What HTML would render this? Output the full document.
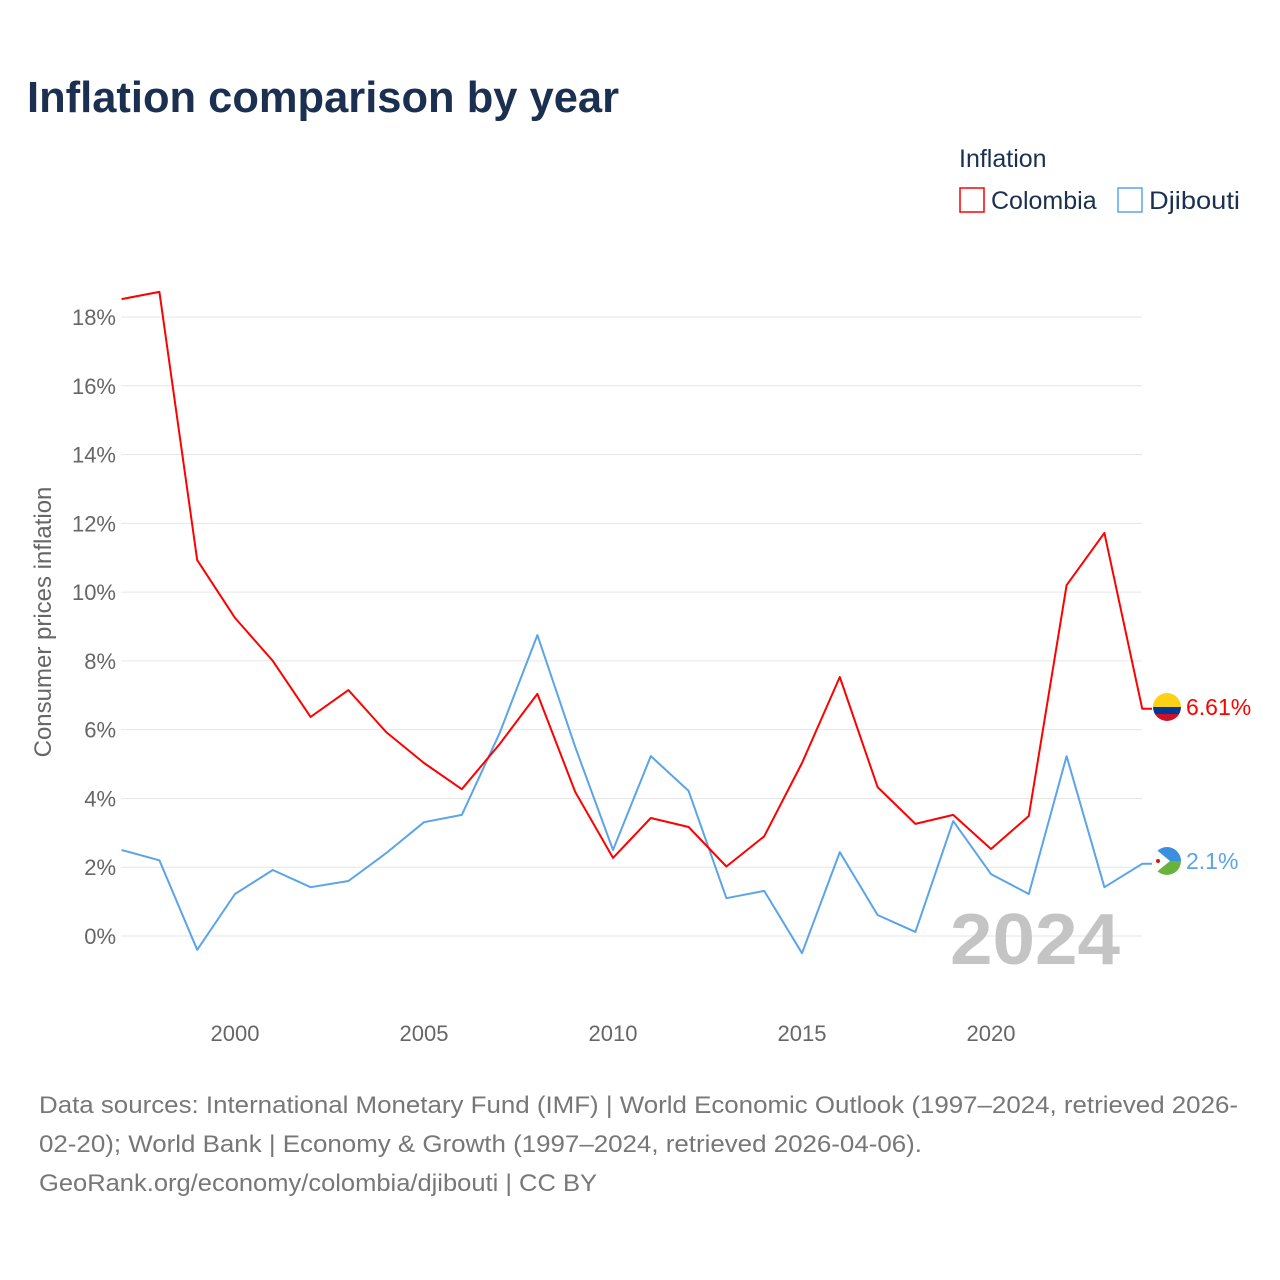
<!DOCTYPE html>
<html><head><meta charset="utf-8">
<style>
body{margin:0;background:#fff;font-family:"Liberation Sans",sans-serif;}
#wrap{position:relative;width:1280px;height:1280px;overflow:hidden;}
</style></head>
<body>
<div id="wrap">
<svg id="chart" width="1280" height="1280">
<text x="27" y="112" font-size="44" font-weight="bold" fill="#1b3050" textLength="592" lengthAdjust="spacingAndGlyphs">Inflation comparison by year</text>
<g>
<text x="959" y="167" font-size="25" fill="#1b3050">Inflation</text>
<g>
<rect x="960" y="188" width="24" height="24" fill="none" stroke="#ff0000" stroke-width="1.5"/>
<text x="991" y="209" font-size="25" fill="#1b3050">Colombia</text></g>
<g>
<rect x="1118" y="188" width="24" height="24" fill="none" stroke="#5ba4ea" stroke-width="1.5"/>
<text x="1149" y="209" font-size="25" fill="#1b3050" textLength="91" lengthAdjust="spacingAndGlyphs">Djibouti</text></g>
</g>
<g id="grid"></g>
<g id="yticks"></g>
<g id="xticks"></g>
<text transform="translate(51,622) rotate(-90)" text-anchor="middle" font-size="24" fill="#666">Consumer prices inflation</text>
<text x="950" y="964" font-size="72" font-weight="bold" fill="#c4c4c4" textLength="170" lengthAdjust="spacingAndGlyphs">2024</text>
<g id="series"></g>
<g>
<clipPath id="c1"><circle cx="1167" cy="707" r="14"/></clipPath>
<g clip-path="url(#c1)"><rect x="1153" y="693" width="28" height="14" fill="#fcd116"/><rect x="1153" y="707" width="28" height="7" fill="#003893"/><rect x="1153" y="714" width="28" height="7" fill="#ce1126"/></g></g>
<g>
<clipPath id="c2"><circle cx="1167" cy="861" r="14"/></clipPath>
<g clip-path="url(#c2)"><rect x="1153" y="847" width="28" height="14" fill="#3b8fe0"/><rect x="1153" y="861" width="28" height="14" fill="#6ab23e"/><polygon points="1153,847 1170,861 1153,875" fill="#fff"/><circle cx="1158" cy="861" r="2" fill="#d7141a"/></g></g>
<text x="1186" y="715" font-size="23" fill="#ff0000">6.61%</text>
<text x="1186" y="869" font-size="23" fill="#5ba4ea">2.1%</text>
<g font-size="24" fill="#777">
<text x="39" y="1113" textLength="1199" lengthAdjust="spacingAndGlyphs">Data sources: International Monetary Fund (IMF) | World Economic Outlook (1997–2024, retrieved 2026-</text>
<text x="39" y="1152" textLength="883" lengthAdjust="spacingAndGlyphs">02-20); World Bank | Economy &amp; Growth (1997–2024, retrieved 2026-04-06).</text>
<text x="39" y="1191" textLength="558" lengthAdjust="spacingAndGlyphs">GeoRank.org/economy/colombia/djibouti | CC BY</text>
</g>
</svg>
</div>
<script>
const years=[1997,1998,1999,2000,2001,2002,2003,2004,2005,2006,2007,2008,2009,2010,2011,2012,2013,2014,2015,2016,2017,2018,2019,2020,2021,2022,2023,2024];
const colombia=[18.52,18.73,10.93,9.25,8.0,6.37,7.15,5.93,5.03,4.27,5.58,7.04,4.19,2.27,3.43,3.17,2.02,2.90,5.03,7.53,4.33,3.26,3.52,2.53,3.49,10.2,11.72,6.61];
const djibouti=[2.5,2.2,-0.4,1.22,1.92,1.42,1.6,2.41,3.31,3.52,5.9,8.75,5.5,2.5,5.23,4.22,1.1,1.31,-0.5,2.44,0.61,0.12,3.34,1.8,1.22,5.23,1.42,2.1];
const yTicks=[0,2,4,6,8,10,12,14,16,18];
const xTicks=[2000,2005,2010,2015,2020];
const NS='http://www.w3.org/2000/svg';
function xs(y){return 121.6+(y-1997)*37.8;}
function ys(v){return 936-v*34.39;}
function mk(t,a){const e=document.createElementNS(NS,t);for(const k in a)e.setAttribute(k,a[k]);return e;}
const grid=document.getElementById('grid'),yt=document.getElementById('yticks'),xt=document.getElementById('xticks'),ser=document.getElementById('series');
yTicks.forEach(v=>{
 const l=mk('line',{x1:121,x2:1142,y1:ys(v),y2:ys(v),stroke:'#e6e6e6','stroke-width':1});
 
 
 grid.appendChild(l);
 const t=mk('text',{x:116,y:ys(v)+8,'text-anchor':'end','font-size':22,fill:'#666'});
 t.textContent=v+'%';
 
 
 yt.appendChild(t);
});
xTicks.forEach(v=>{
 const t=mk('text',{x:xs(v),y:1041,'text-anchor':'middle','font-size':22,fill:'#666'});
 t.textContent=v;
 
 
 xt.appendChild(t);
});
function line(vals,color,name){
 let d=vals.map((v,i)=>(i?'L':'M')+xs(years[i]).toFixed(1)+','+ys(v).toFixed(1)).join(' ');
 d+=' L1152,'+ys(vals[vals.length-1]).toFixed(1);
 const p=mk('path',{d:d,fill:'none',stroke:color,'stroke-width':2,'stroke-linejoin':'round'});
 
 
 ser.appendChild(p);
}
line(djibouti,'#5ba4ea','djibouti-line');
line(colombia,'#ff0000','colombia-line');
</script>
</body></html>
